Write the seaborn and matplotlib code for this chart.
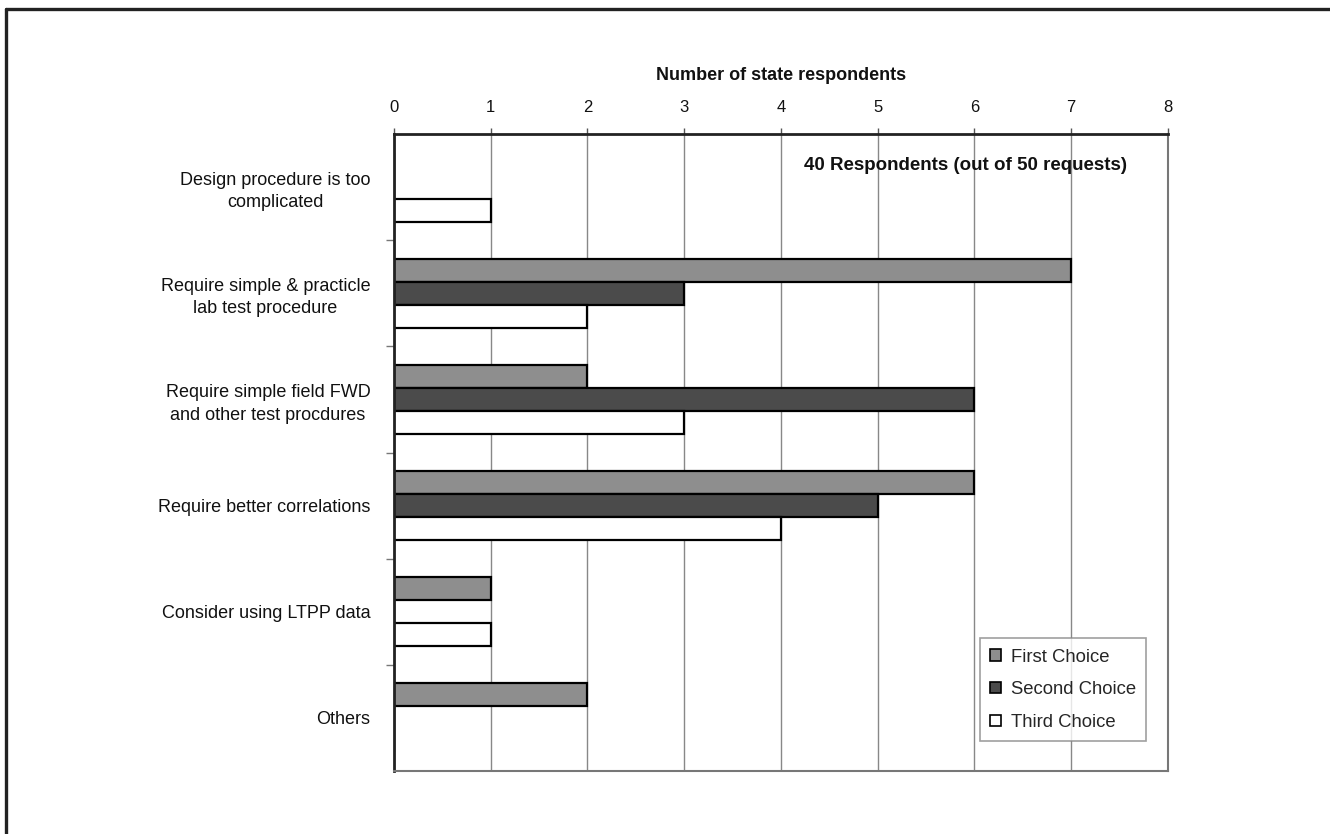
import matplotlib
matplotlib.use("Agg")
import matplotlib.pyplot as plt
from matplotlib.lines import Line2D
from matplotlib.ticker import FixedLocator
import numpy as np
import pandas as pd
import seaborn as sns

# Survey responses: number of states choosing each improvement need
categories = [
    "Design procedure is too\ncomplicated",
    "Require simple & practicle\nlab test procedure",
    "Require simple field FWD\nand other test procdures",
    "Require better correlations",
    "Consider using LTPP data",
    "Others",
]
choices = ["First Choice", "Second Choice", "Third Choice"]
first_choice = [0, 7, 2, 6, 1, 2]
second_choice = [0, 3, 6, 5, 0, 0]
third_choice = [1, 2, 3, 4, 1, 0]
x_ticks = [0, 1, 2, 3, 4, 5, 6, 7, 8]

rows = []
for name, vals in zip(choices, [first_choice, second_choice, third_choice]):
    for cat, v in zip(categories, vals):
        rows.append({"category": cat, "count": v, "choice": name})
df = pd.DataFrame(rows)

sns.set_theme(style="white")
plt.rcParams["font.family"] = ["Liberation Sans", "DejaVu Sans"]

fig = plt.figure(figsize=(13.3, 8.34), dpi=100)
ax = fig.add_axes([0.2962, 0.0755, 0.582, 0.7638])

sns.barplot(
    data=df, y="category", x="count", hue="choice", orient="h",
    order=categories, hue_order=choices,
    palette=["#8e8e8e", "#4b4b4b", "#ffffff"],
    edgecolor="black", linewidth=1.6, width=0.65, ax=ax, legend=True,
)

ax.set_xlim(0, 8)
ax.set_ylim(len(categories) - 0.5, -0.5)
ax.xaxis.set_major_locator(FixedLocator(x_ticks))
ax.xaxis.tick_top()
ax.xaxis.set_label_position("top")
ax.set_xlabel("Number of state respondents", fontsize=13, fontweight="bold",
              labelpad=14, color="#111111")
ax.set_ylabel("")
ax.tick_params(axis="x", which="major", top=True, length=4, width=1,
               color="#555555", labelsize=12, pad=10, labelcolor="#111111")

# Category labels beside each band, boundary ticks between bands
ax.tick_params(axis="y", which="major", left=False, length=0, pad=17,
               labelsize=13, labelcolor="#111111")
for lbl in ax.get_yticklabels():
    lbl.set_horizontalalignment("right")
    lbl.set_multialignment("center")
    lbl.set_linespacing(1.4)
ax.yaxis.set_minor_locator(FixedLocator(np.arange(0.5, len(categories) - 1, 1.0)))
ax.tick_params(axis="y", which="minor", left=True, length=6, width=1,
               color="#777777")

ax.grid(axis="x", color="#888888", linewidth=1)
ax.grid(axis="y", visible=False)
ax.set_axisbelow(True)

for side in ["top", "left"]:
    ax.spines[side].set_color("#222222")
    ax.spines[side].set_linewidth(2)
for side in ["right", "bottom"]:
    ax.spines[side].set_color("#777777")
    ax.spines[side].set_linewidth(1.5)
    ax.spines[side].set_visible(True)

ax.text(0.947, 0.951, "40 Respondents (out of 50 requests)",
        transform=ax.transAxes, ha="right", va="center",
        fontsize=13.5, fontweight="bold", color="#111111")

leg = ax.legend(loc="lower right", bbox_to_anchor=(0.9716, 0.047),
                frameon=True, fancybox=False, fontsize=13.3,
                handlelength=0.58, handleheight=0.58, handletextpad=0.55,
                labelspacing=0.85, borderpad=0.55, borderaxespad=0)
leg.get_frame().set_edgecolor("#888888")
leg.get_frame().set_linewidth(1.2)
for h in leg.legend_handles:
    h.set_edgecolor("black")
    h.set_linewidth(1.2)

# Outer frame along the top and left of the page
fig.add_artist(Line2D([0.0045, 0.0045], [0.0, 0.989], transform=fig.transFigure,
                      color="#222222", linewidth=2.4))
fig.add_artist(Line2D([0.0045, 1.0], [0.989, 0.989], transform=fig.transFigure,
                      color="#222222", linewidth=2.4))

fig.savefig("out.png", dpi=100, facecolor="white")
